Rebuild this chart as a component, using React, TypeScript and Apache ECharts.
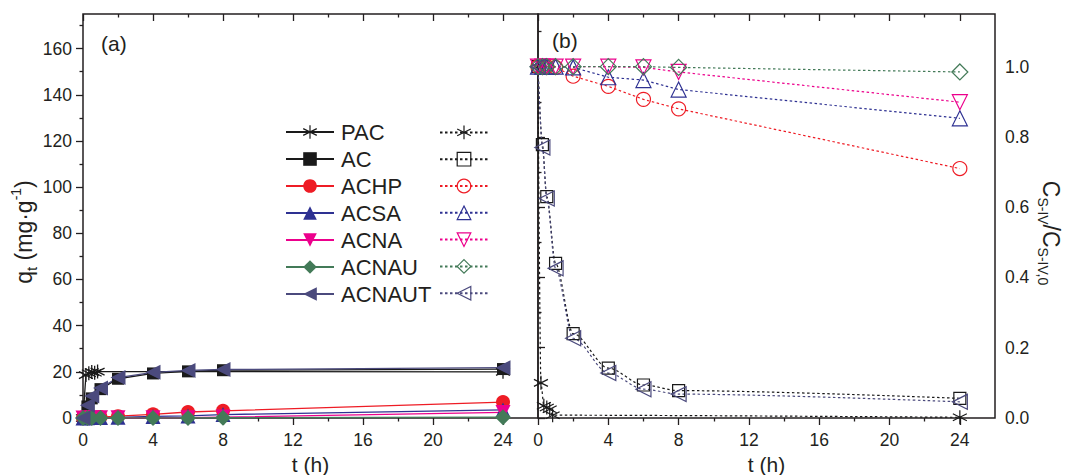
import React, { useEffect, useRef } from 'react';
import * as echarts from 'echarts';

// ---------- data ----------
const T = [0, 0.25, 0.5, 1, 2, 4, 6, 8, 24];
const T_PAC = [0, 0.167, 0.333, 0.5, 0.667, 0.833, 24];

const NAMES = ['PAC', 'AC', 'ACHP', 'ACSA', 'ACNA', 'ACNAU', 'ACNAUT'];

// (a) q_t (mg/g)
const Q_PAC = [0, 18.6, 19.4, 19.9, 19.6, 20.1, 20.0];
const Q_AC = [0, 5.0, 8.5, 12.5, 17.0, 19.3, 20.2, 20.7, 21.2];
const Q_ACHP = [0, 0.2, 0.3, 0.4, 0.8, 1.6, 2.6, 3.1, 6.9];
const Q_ACSA = [0, 0.1, 0.2, 0.2, 0.3, 0.7, 0.9, 1.5, 3.5];
const Q_ACNA = [0, 0.05, 0.1, 0.1, 0.1, 0.1, 0.15, 0.4, 2.4];
const Q_ACNAU = [0, 0.05, 0.05, 0.05, 0.05, 0.05, 0.05, 0.1, 0.35];
const Q_ACNAUT = [0, 5.5, 9.5, 13.0, 17.5, 19.8, 20.6, 21.0, 21.8];

// (b) C/C0
const C_PAC = [1.0, 0.1, 0.035, 0.03, 0.025, 0.008, 0.002];
const C_AC = [1.0, 0.778, 0.63, 0.44, 0.24, 0.142, 0.094, 0.078, 0.056];
const C_ACHP = [1.0, 1.0, 1.0, 0.998, 0.973, 0.944, 0.907, 0.88, 0.71];
const C_ACSA = [1.0, 1.0, 1.0, 1.0, 0.998, 0.97, 0.962, 0.935, 0.853];
const C_ACNA = [1.0, 1.0, 1.0, 1.0, 1.0, 1.0, 0.998, 0.985, 0.899];
const C_ACNAU = [1.0, 1.0, 1.0, 1.0, 1.0, 1.0, 1.0, 0.998, 0.985];
const C_ACNAUT = [1.0, 0.77, 0.625, 0.426, 0.227, 0.128, 0.082, 0.068, 0.046];

const X_MAJOR = [0, 4, 8, 12, 16, 20, 24];
const X_MINOR = [2, 6, 10, 14, 18, 22];
const YA_MAJOR = [0, 20, 40, 60, 80, 100, 120, 140, 160];
const YA_MINOR = [10, 30, 50, 70, 90, 110, 130, 150, 170];
const YB_MAJOR = [0, 0.2, 0.4, 0.6, 0.8, 1.0];
const YB_MINOR = [0.1, 0.3, 0.5, 0.7, 0.9, 1.1];

// ---------- styles ----------
const FONT = "'Liberation Sans', Arial, Helvetica, sans-serif";
const INK = '#231f20';
const STAR = 'path://M5,0L5,10M0.67,2.5L9.33,7.5M0.67,7.5L9.33,2.5';

const STYLE: Record<string, { color: string; symbol: string; rotate: number; size: number }> = {
  PAC: { color: '#1a1a1a', symbol: STAR, rotate: 0, size: 14 },
  AC: { color: '#1a1a1a', symbol: 'rect', rotate: 0, size: 12 },
  ACHP: { color: '#ee1c25', symbol: 'circle', rotate: 0, size: 14 },
  ACSA: { color: '#2e3192', symbol: 'triangle', rotate: 0, size: 15 },
  ACNA: { color: '#ec008c', symbol: 'triangle', rotate: 180, size: 15 },
  ACNAU: { color: '#437a58', symbol: 'diamond', rotate: 0, size: 16 },
  ACNAUT: { color: '#4b4a7d', symbol: 'triangle', rotate: 90, size: 15 },
};

const zip = (xs: number[], ys: number[]) => xs.map((x, i) => [x, ys[i]]);

const Q_DATA: Record<string, number[][]> = {
  PAC: zip(T_PAC, Q_PAC),
  AC: zip(T, Q_AC),
  ACHP: zip(T, Q_ACHP),
  ACSA: zip(T, Q_ACSA),
  ACNA: zip(T, Q_ACNA),
  ACNAU: zip(T, Q_ACNAU),
  ACNAUT: zip(T, Q_ACNAUT),
};
const C_DATA: Record<string, number[][]> = {
  PAC: zip(T_PAC, C_PAC),
  AC: zip(T, C_AC),
  ACHP: zip(T, C_ACHP),
  ACSA: zip(T, C_ACSA),
  ACNA: zip(T, C_ACNA),
  ACNAU: zip(T, C_ACNAU),
  ACNAUT: zip(T, C_ACNAUT),
};
const B_NAME = (n: string) => n + ' (b)';

function tickAxis(opts: any) {
  const { gridIndex, position, min, max, values, length, inside, labels, extra } = opts;
  return {
    type: 'value',
    gridIndex,
    position,
    min,
    max,
    axisLine: { show: false },
    splitLine: { show: false },
    axisTick: {
      show: true,
      inside: !!inside,
      length,
      customValues: values,
      lineStyle: { color: INK, width: 1.3 },
    },
    axisLabel: labels
      ? {
          show: true,
          customValues: values,
          fontFamily: FONT,
          fontSize: 17.5,
          color: INK,
          ...labels,
        }
      : { show: false },
    ...(extra || {}),
  };
}

export default function App() {
  const ref = useRef<HTMLDivElement>(null);

  useEffect(() => {
    if (!ref.current) return;
    const chart = echarts.init(ref.current, undefined, { renderer: 'svg' });

    const gridA = { left: 83, top: 14, width: 455, height: 404 };
    const gridB = { left: 538, top: 14, width: 457, height: 404 };

    const seriesA = NAMES.map((n) => {
      const s = STYLE[n];
      const isStar = n === 'PAC';
      return {
        type: 'line',
        name: n,
        xAxisIndex: 0,
        yAxisIndex: 0,
        data: Q_DATA[n],
        symbol: s.symbol,
        symbolSize: s.size,
        symbolRotate: s.rotate,
        showAllSymbol: true,
        lineStyle: { color: s.color, width: 1.3, type: 'solid' },
        itemStyle: isStar
          ? { color: s.color, borderColor: s.color, borderWidth: 1.3 }
          : { color: s.color, borderWidth: 0 },
        emphasis: { disabled: true },
        z: 3,
      };
    });

    const seriesB = NAMES.map((n) => {
      const s = STYLE[n];
      const smooth = n === 'AC' || n === 'ACNAUT' || n === 'PAC' ? 0.3 : false;
      return {
        type: 'line',
        name: B_NAME(n),
        xAxisIndex: 4,
        yAxisIndex: 2,
        data: C_DATA[n],
        symbol: s.symbol,
        symbolSize: s.size,
        symbolRotate: s.rotate,
        showAllSymbol: true,
        smooth,
        smoothMonotone: 'x',
        lineStyle: { color: s.color, width: 1.2, type: [2.5, 2.5] },
        itemStyle: { color: 'rgba(255,255,255,0)', borderColor: s.color, borderWidth: 1.2 },
        emphasis: { disabled: true },
        z: 3,
      };
    });

    const option: any = {
      animation: false,
      backgroundColor: '#ffffff',
      grid: [
        { ...gridA, show: true, borderColor: INK, borderWidth: 1.5, backgroundColor: 'transparent', outerBoundsMode: 'none' },
        { ...gridA, show: false, outerBoundsMode: 'none' },
        { ...gridB, show: true, borderColor: INK, borderWidth: 1.5, backgroundColor: 'transparent', outerBoundsMode: 'none' },
        { ...gridB, show: false, outerBoundsMode: 'none' },
      ],
      xAxis: [
        tickAxis({
          gridIndex: 0, position: 'bottom', min: 0, max: 26, values: X_MAJOR, length: 7,
          labels: { margin: 13 },
          extra: {
            name: 't (h)', nameLocation: 'middle', nameGap: 33,
            nameTextStyle: { fontFamily: FONT, fontSize: 21, color: INK },
          },
        }),
        tickAxis({ gridIndex: 0, position: 'top', min: 0, max: 26, values: X_MAJOR, length: 7, inside: true }),
        tickAxis({ gridIndex: 1, position: 'bottom', min: 0, max: 26, values: X_MINOR, length: 3.5 }),
        tickAxis({ gridIndex: 1, position: 'top', min: 0, max: 26, values: X_MINOR, length: 3.5, inside: true }),
        tickAxis({
          gridIndex: 2, position: 'bottom', min: 0, max: 26, values: X_MAJOR, length: 7,
          labels: { margin: 13 },
          extra: {
            name: 't (h)', nameLocation: 'middle', nameGap: 33,
            nameTextStyle: { fontFamily: FONT, fontSize: 21, color: INK },
          },
        }),
        tickAxis({ gridIndex: 2, position: 'top', min: 0, max: 26, values: X_MAJOR, length: 7, inside: true }),
        tickAxis({ gridIndex: 3, position: 'bottom', min: 0, max: 26, values: X_MINOR, length: 3.5 }),
        tickAxis({ gridIndex: 3, position: 'top', min: 0, max: 26, values: X_MINOR, length: 3.5, inside: true }),
      ],
      yAxis: [
        tickAxis({
          gridIndex: 0, position: 'left', min: 0, max: 175, values: YA_MAJOR, length: 7,
          labels: { margin: 11 },
          extra: {
            name: '{m|q}{s|t}{m| (mg·g}{p|-1}{m|)}',
            nameLocation: 'middle',
            nameGap: 33,
            nameRotate: 90,
            nameTextStyle: {
              padding: [0, 32, 0, 0],
              rich: {
                m: { fontFamily: FONT, fontSize: 23, lineHeight: 30, color: INK },
                s: { fontFamily: FONT, fontSize: 15, lineHeight: 15, verticalAlign: 'bottom', color: INK },
                p: { fontFamily: FONT, fontSize: 14, lineHeight: 14, verticalAlign: 'top', color: INK },
              },
            },
          },
        }),
        tickAxis({ gridIndex: 1, position: 'left', min: 0, max: 175, values: YA_MINOR, length: 3.5 }),
        tickAxis({
          gridIndex: 2, position: 'right', min: 0, max: 1.15, values: YB_MAJOR, length: 7,
          labels: { margin: 10, formatter: (v: number) => v.toFixed(1) },
          extra: {
            name: '{m|C}{s|S-IV}{m|/C}{s|S-IV,0}',
            nameLocation: 'middle',
            nameGap: 41,
            nameRotate: -90,
            nameTextStyle: {
              padding: [0, 0, 0, 34],
              rich: {
                m: { fontFamily: FONT, fontSize: 23, lineHeight: 29, color: INK },
                s: { fontFamily: FONT, fontSize: 14, lineHeight: 14, verticalAlign: 'bottom', color: INK },
              },
            },
          },
        }),
        tickAxis({ gridIndex: 3, position: 'right', min: 0, max: 1.15, values: YB_MINOR, length: 3.5 }),
      ],
      legend: [
        {
          data: NAMES,
          orient: 'vertical',
          left: 285,
          top: 121,
          padding: 0,
          itemWidth: 48,
          itemHeight: 17,
          itemGap: 5,
          selectedMode: false,
          itemStyle: { borderWidth: 1.2 },
          textStyle: { fontFamily: FONT, fontSize: 22, lineHeight: 17, color: INK, padding: [0, 0, 0, 2] },
        },
        {
          data: NAMES.map(B_NAME),
          orient: 'vertical',
          left: 439,
          top: 125,
          padding: 0,
          itemWidth: 48,
          itemHeight: 17,
          itemGap: 12,
          selectedMode: false,
          formatter: () => '',
          itemStyle: { borderWidth: 1.2 },
          textStyle: { fontSize: 1, lineHeight: 17 },
        },
      ],
      graphic: [
        {
          type: 'text', left: 101, top: 33,
          style: { text: '(a)', font: `21px ${FONT}`, fill: INK },
        },
        {
          type: 'text', left: 552, top: 30,
          style: { text: '(b)', font: `21px ${FONT}`, fill: INK },
        },
      ],
      series: [...seriesA, ...seriesB],
    };

    chart.setOption(option);
    return () => chart.dispose();
  }, []);

  return (
    <div
      ref={ref}
      style={{ position: 'fixed', left: 0, top: 0, width: 1067, height: 475, background: '#fff' }}
    />
  );
}
